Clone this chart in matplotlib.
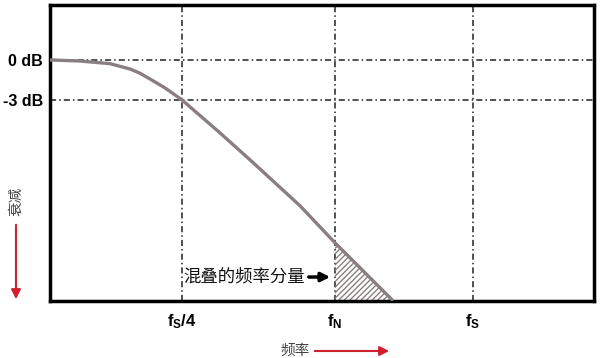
import matplotlib
matplotlib.use('Agg')
import matplotlib.pyplot as plt
import numpy as np

plt.rcParams['font.family'] = ['Liberation Sans', 'Noto Sans CJK SC', 'DejaVu Sans']
plt.rcParams['mathtext.fontset'] = 'custom'
plt.rcParams['mathtext.rm'] = 'Liberation Sans:bold'
plt.rcParams['mathtext.it'] = 'Liberation Sans:bold'
plt.rcParams['mathtext.bf'] = 'Liberation Sans:bold'
plt.rcParams['hatch.color'] = '#8a8080'
plt.rcParams['hatch.linewidth'] = 1.0

# curva de respuesta (frecuencia en unidades arbitrarias, atenuación en dB)
frecuencia = np.array([0, 30, 60, 80, 90, 100, 115, 132, 170, 200, 250, 285, 342])
atenuacion = np.array([0, -0.08, -0.28, -0.68, -1.0, -1.43, -2.1, -3, -5.48, -7.5, -10.95, -13.73, -18.0])

x_ticks = [132, 285, 423]
x_labels = [r'$\mathbf{f_S/4}$', r'$\mathbf{f_N}$', r'$\mathbf{f_S}$']
y_ticks = [0, -3]
y_labels = ['0 dB', '-3 dB']
f_nyquist = 285

fig = plt.figure(figsize=(6, 3.58), dpi=100)
ax = fig.add_axes([50/600, 57/358, 544/600, 296/358])

ax.plot(frecuencia, atenuacion, color='#8a7f80', lw=2.4, solid_capstyle='round',
        solid_joinstyle='round', zorder=3)

# zona de aliasing rayada
mask = frecuencia >= f_nyquist
ax.fill_between(frecuencia[mask], atenuacion[mask], -18.1, facecolor='none',
                edgecolor='#8a8080', hatch='//////', lw=0, zorder=2)

for xv in x_ticks:
    ax.axvline(xv, color='#222222', lw=1.1, ls=(0, (4, 2, 1, 2)), zorder=1)
for yv in y_ticks:
    ax.axhline(yv, color='#222222', lw=1.1, ls=(0, (4, 2, 1, 2)), zorder=1)

ax.set_xlim(0, 544)
ax.set_ylim(-18.1, 4.125)
ax.set_xticks(x_ticks)
ax.set_xticklabels(x_labels, fontsize=12)
ax.set_yticks(y_ticks)
ax.set_yticklabels(y_labels, fontsize=11.5, fontweight='bold')
ax.tick_params(length=0)
ax.tick_params(axis='x', pad=8)
ax.tick_params(axis='y', pad=5)
for s in ax.spines.values():
    s.set_linewidth(2.5)
    s.set_color('black')

ax.annotate('', xy=(283, -16.3), xytext=(256, -16.3),
            arrowprops=dict(arrowstyle='-|>', color='black', lw=2.5, mutation_scale=13))
ax.text(255, -16.3, '混叠的频率分量', ha='right', va='center', fontsize=12.5,
        family=['Noto Sans CJK SC'], color='#111111')

# etiquetas de los ejes con flechas rojas
fig.text(16/600, 1 - 201/358, '衰减', rotation=90, ha='center', va='center',
         fontsize=10.5, family=['Noto Sans CJK SC'], color='#444444')
fig.add_artist(matplotlib.patches.FancyArrowPatch((16/600, 1 - 222/358), (16/600, 1 - 302/358),
               transform=fig.transFigure, arrowstyle='-|>', color='#d0202e', lw=1.5, mutation_scale=14))
fig.text(295/600, 1 - 351/358, '频率', ha='center', va='center',
         fontsize=10.5, family=['Noto Sans CJK SC'], color='#444444')
fig.add_artist(matplotlib.patches.FancyArrowPatch((312/600, 1 - 351/358), (392/600, 1 - 351/358),
               transform=fig.transFigure, arrowstyle='-|>', color='#d0202e', lw=1.5, mutation_scale=14))

fig.savefig('out.png', dpi=100)
